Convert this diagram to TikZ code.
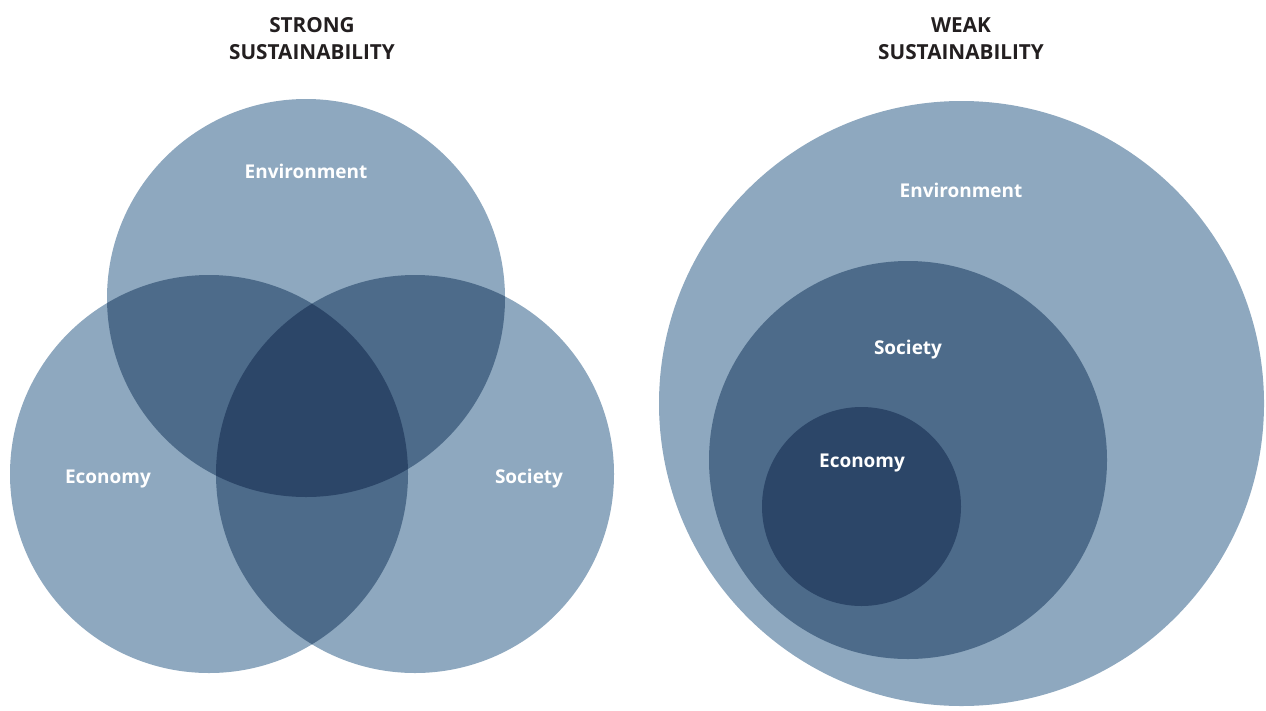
\documentclass[tikz,border=0pt]{standalone}
\usepackage{fontspec}
\setmainfont{Open Sans}
\usepackage{tikz}

\definecolor{lightblue}{HTML}{8EA8BF}
\definecolor{midblue}{HTML}{4D6B8A}
\definecolor{deepblue}{HTML}{2C4668}
\definecolor{titlegray}{HTML}{231F20}

\tikzset{
	label text/.style={text=white, font=\bfseries\fontsize{10.8}{13}\selectfont},
	title text/.style={text=titlegray, align=center, font=\bfseries\fontsize{11.8}{15}\selectfont}
}

\begin{document}
\begin{tikzpicture}[x=0.02cm, y=-0.02cm]
		\useasboundingbox (0, 0) rectangle (1266, 710);
		% strong sustainability
		\coordinate (env) at (306, 298);
		\coordinate (eco) at (209, 474);
		\coordinate (soc) at (415, 474);
		\fill [lightblue] (env) circle (199);
		\fill [lightblue] (eco) circle (199);
		\fill [lightblue] (soc) circle (199);
		\begin{scope}
			\clip (env) circle (199);
			\fill [midblue] (eco) circle (199);
			\fill [midblue] (soc) circle (199);
		\end{scope}
		\begin{scope}
			\clip (eco) circle (199);
			\fill [midblue] (soc) circle (199);
		\end{scope}
		\begin{scope}
			\clip (env) circle (199);
			\clip (eco) circle (199);
			\fill [deepblue] (soc) circle (199);
		\end{scope}
		\node [label text] (envlabel) at (306, 171) {Environment};
		\node [label text] (ecolabel) at (108, 479) {Economy};
		\node [label text] (soclabel) at (529, 479) {Society};
		\node [title text] (strong) at (312, 38.5) {STRONG\\SUSTAINABILITY};
		% weak sustainability
		\coordinate (wenv) at (961.5, 403.5);
		\coordinate (wsoc) at (908, 460);
		\coordinate (weco) at (861.5, 506.5);
		\fill [lightblue] (wenv) circle (302.5);
		\fill [midblue] (wsoc) circle (199);
		\fill [deepblue] (weco) circle (99.5);
		\node [label text] (wenvlabel) at (961, 190) {Environment};
		\node [label text] (wsoclabel) at (908, 350) {Society};
		\node [label text] (wecolabel) at (862, 463) {Economy};
		\node [title text] (weak) at (961, 38.5) {WEAK\\SUSTAINABILITY};
	\end{tikzpicture}
\end{document}
